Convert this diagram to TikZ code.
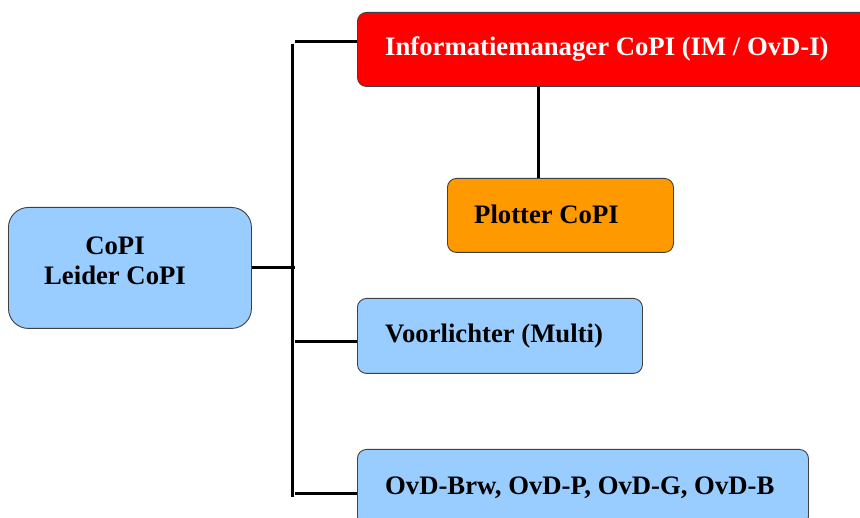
\documentclass[tikz,border=0pt]{standalone}
\usepackage{fontspec}
\setmainfont{Liberation Serif}
\begin{document}
\begin{tikzpicture}[x=1pt,y=-1pt,
  box/.style={draw=black!75, line width=0.9pt, rounded corners=9pt, inner sep=0pt, anchor=north west},
  lbl/.style={font=\fontsize{26.7}{30}\selectfont\bfseries, inner sep=0pt, anchor=west},
  conn/.style={line width=3pt}]
\useasboundingbox (0,0) rectangle (860,518);
\clip (0,0) rectangle (860,518);
\fill[white] (0,0) rectangle (860,518);
% boxes
\node[box, fill={rgb,255:red,153;green,204;blue,255}, rounded corners=20pt, minimum width=243pt, minimum height=121pt] (copi) at (8,207) {};
\node[font=\fontsize{26.7}{30}\selectfont\bfseries, align=center, inner sep=0pt] (copitxt) at (115,261) {CoPI\\Leider CoPI};
\node[box, fill={rgb,255:red,255;green,0;blue,0}, minimum width=540pt, minimum height=74pt] (im) at (357,12) {};
\node[lbl, text=white] (imtxt) at (385,49) {Informatiemanager CoPI (IM / OvD-I)};
\node[box, fill={rgb,255:red,255;green,153;blue,0}, minimum width=226pt, minimum height=74pt] (plot) at (447,178) {};
\node[lbl] (plottxt) at (474,214) {Plotter CoPI};
\node[box, fill={rgb,255:red,153;green,204;blue,255}, minimum width=285pt, minimum height=75pt] (voor) at (357,298) {};
\node[lbl] (voortxt) at (385,336) {Voorlichter (Multi)};
\node[box, fill={rgb,255:red,153;green,204;blue,255}, minimum width=451pt, minimum height=76pt] (ovd) at (357,449) {};
\node[lbl] (ovdtxt) at (385,488) {OvD-Brw, OvD-P, OvD-G, OvD-B};
% connector coordinates
\coordinate (ttop) at (292,44);
\coordinate (tbot) at (292,497);
\coordinate (tmid) at (295,268);
\coordinate (b1) at (295,42);
\coordinate (b3) at (295,342);
\coordinate (b4) at (295,494);
\coordinate (vx) at (538,0);
% connectors
\draw[conn] (ttop) -- (tbot);
\draw[conn] (copi.east |- tmid) -- (tmid);
\draw[conn] (b1) -- (im.west |- b1);
\draw[conn] (b3) -- (voor.west |- b3);
\draw[conn] (b4) -- (ovd.west |- b4);
\draw[conn] (im.south -| vx) -- (plot.north -| vx);
\end{tikzpicture}
\end{document}
